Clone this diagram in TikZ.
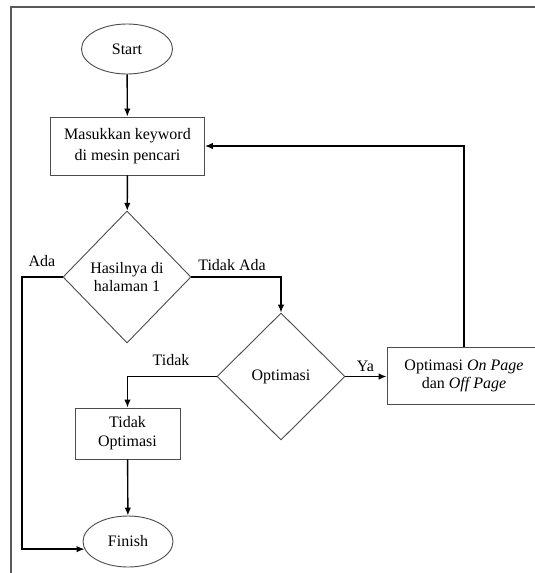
\documentclass[tikz,border=0pt]{standalone}
\usepackage{fontspec}
\setmainfont{Liberation Serif}
\usetikzlibrary{shapes.geometric,arrows.meta}
\begin{document}
\begin{tikzpicture}[x=1pt,y=-1pt,
  every node/.style={font=\fontsize{16}{19}\selectfont},
  shapeline/.style={draw=black!70, line width=0.9pt},
  term/.style={shapeline, ellipse, minimum width=91pt, minimum height=50pt, inner sep=0pt},
  proc/.style={shapeline, rectangle, align=center, inner sep=0pt},
  dec/.style={shapeline, diamond, minimum width=128pt, minimum height=132pt, inner sep=0pt, align=center},
  conn/.style={draw=black, line width=1.4pt},
  arr/.style={conn, -{Latex[length=8pt,width=6.5pt]}},
  lbl/.style={inner sep=0pt}
]
\useasboundingbox (0,0) rectangle (535,573);
\fill[white] (0,0) rectangle (535,573);
% frame
\draw[black!65, line width=2pt] (536,6.5) -- (10.5,6.5) -- (10.5,574);

\node[term] (start) at (127,49) {Start};
\node[proc, minimum width=154pt, minimum height=58pt, font=\fontsize{16}{20.5}\selectfont] (mas) at (127.5,146) {Masukkan keyword\\di mesin pencari};
\node[dec, font=\fontsize{16}{17.5}\selectfont] (d1) at (127,277) {Hasilnya di\\halaman 1};
\node[dec, minimum height=127pt] (d2) at (281,376.5) {Optimasi};
\node[proc, minimum width=154pt, minimum height=57pt, font=\fontsize{16}{18.5}\selectfont] (opt) at (464,376) {Optimasi \textit{On Page}\\dan \textit{Off Page}};
\node[proc, minimum width=105pt, minimum height=51pt, font=\fontsize{16}{19}\selectfont] (tidak) at (127.5,433.5) {Tidak\\Optimasi};
\node[term, minimum width=90pt, minimum height=51pt] (finish) at (128,541.5) {Finish};

\coordinate (lx) at (22,0);

\draw[arr] (start) -- (mas);
\draw[arr] (mas) -- (d1);
\draw[arr] (d1.west) -- (d1.west -| lx) |- (finish.190);
\draw[arr] (d1.east) -| (d2.north);
\draw[arr] (d2.west) -| (tidak.north);
\draw[arr] (d2.east) -- (d2.east -| opt.west);
\draw[arr] (opt.north) |- (mas.east);
\draw[arr] (tidak) -- (finish);

\node[lbl] (lada) at (42,261) {Ada};
\node[lbl] (ltada) at (232,265) {Tidak Ada};
\node[lbl] (ltidak) at (171,360) {Tidak};
\node[lbl] (lya) at (365.5,366) {Ya};
\end{tikzpicture}
\end{document}
